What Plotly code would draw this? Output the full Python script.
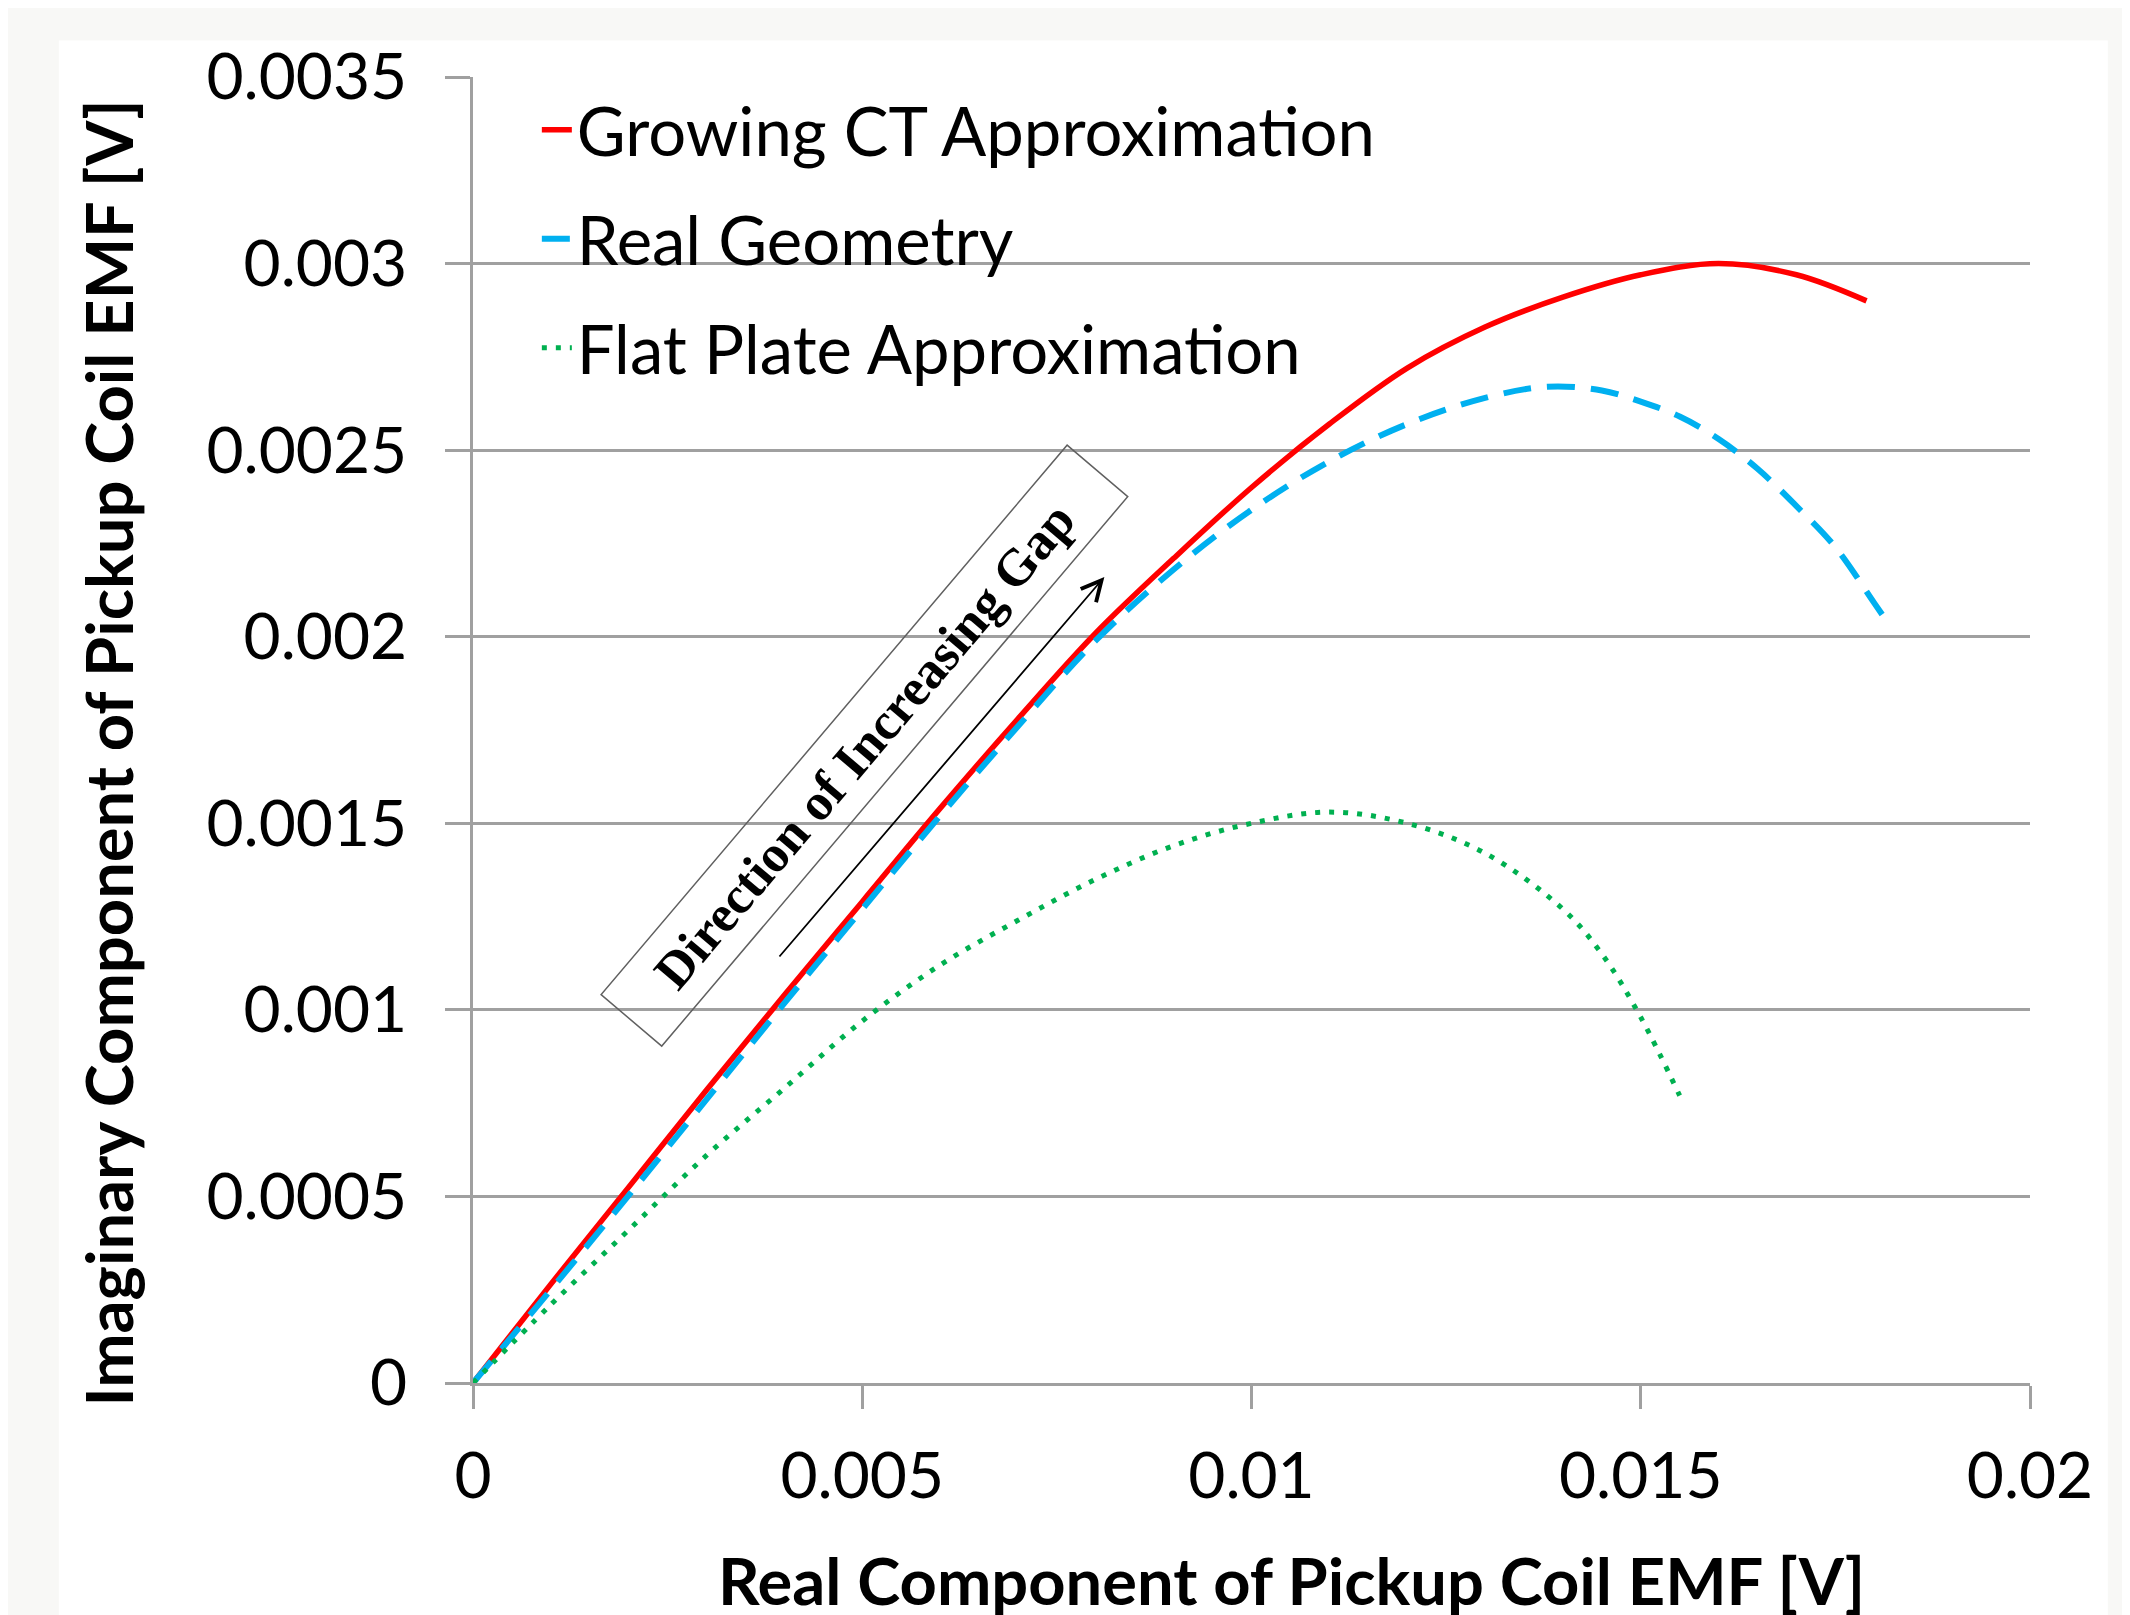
import plotly.graph_objects as go

# ---- data ----
ct_x = [0, 0.001, 0.002, 0.003, 0.004, 0.005, 0.006, 0.007, 0.008, 0.009, 0.010,
        0.011, 0.012, 0.013, 0.014, 0.015, 0.016, 0.017, 0.0179]
ct_y = [0, 0.000265, 0.000525, 0.000785, 0.00104, 0.00129, 0.00154, 0.00178, 0.00201,
        0.00221, 0.00240, 0.00257, 0.00272, 0.00283, 0.00291, 0.00297, 0.00300, 0.00297, 0.00290]

rg_x = [0, 0.001, 0.002, 0.003, 0.004, 0.005, 0.006, 0.007, 0.008, 0.009, 0.010,
        0.011, 0.012, 0.013, 0.0138, 0.0145, 0.015, 0.0155, 0.016, 0.0165, 0.017,
        0.0175, 0.018, 0.0182]
rg_y = [0, 0.000250, 0.000503, 0.000760, 0.001018, 0.00127, 0.00152, 0.00176, 0.00199,
        0.00218, 0.00234, 0.00247, 0.00257, 0.00264, 0.00267, 0.00266, 0.00263, 0.00259,
        0.00253, 0.00245, 0.00235, 0.00224, 0.00209, 0.00203]

fp_x = [0, 0.001, 0.002, 0.003, 0.004, 0.005, 0.006, 0.007, 0.008, 0.009, 0.010,
        0.011, 0.012, 0.013, 0.014, 0.0145, 0.015, 0.0155]
fp_y = [0, 0.00021, 0.00041, 0.00061, 0.00079, 0.00097, 0.00112, 0.00124, 0.00135,
        0.00144, 0.00150, 0.00153, 0.00150, 0.00142, 0.00127, 0.00115, 0.00098, 0.00077]

x_ticks = [0, 0.005, 0.01, 0.015, 0.02]
x_tick_labels = ["0", "0.005", "0.01", "0.015", "0.02"]
y_ticks = [0, 0.0005, 0.001, 0.0015, 0.002, 0.0025, 0.003, 0.0035]
y_tick_labels = ["0", "0.0005", "0.001", "0.0015", "0.002", "0.0025", "0.003", "0.0035"]

series_names = ["Growing CT Approximation", "Real Geometry", "Flat Plate Approximation"]

# annotation anchor points (data coords)
arrow_tail = (0.00392, 0.001139)
arrow_head = (0.00811, 0.00216)
label_center = (0.005027, 0.0017095)

FONT = "Lato"
GRID = "#a0a0a0"

fig = go.Figure()
fig.add_trace(go.Scatter(x=ct_x, y=ct_y, mode="lines", name=series_names[0],
                         legendgroup="a",
                         line=dict(color="#ff0000", width=5.5, shape="spline")))
fig.add_trace(go.Scatter(x=rg_x, y=rg_y, mode="lines", name=series_names[1],
                         legendgroup="b",
                         line=dict(color="#00b0f0", width=6, dash="28px,16px", shape="spline")))
fig.add_trace(go.Scatter(x=fp_x, y=fp_y, mode="lines", name=series_names[2],
                         legendgroup="c",
                         line=dict(color="#00b050", width=5, dash="5px,9px", shape="spline")))

fig.update_layout(
    width=2130, height=1615,
    margin=dict(l=465, r=108, t=69, b=240),
    paper_bgcolor="#f8f8f6",
    plot_bgcolor="white",
    font=dict(family=FONT, size=64, color="black"),
    showlegend=True,
    legend=dict(x=0.041, y=0.998, xanchor="left", yanchor="top",
                bgcolor="rgba(0,0,0,0)", font=dict(family=FONT, size=67),
                tracegroupgap=19, itemwidth=30),
    xaxis=dict(range=[0, 0.02], tickvals=x_ticks, ticktext=x_tick_labels,
               showgrid=False, zeroline=False, showline=True, linecolor=GRID, linewidth=3,
               ticks="outside", ticklen=23, tickwidth=3, tickcolor=GRID,
               ticklabelstandoff=12,
               tickfont=dict(family=FONT, size=64)),
    yaxis=dict(range=[0, 0.0035], tickvals=y_ticks, ticktext=y_tick_labels,
               showgrid=True, gridcolor=GRID, gridwidth=3,
               zeroline=False, showline=True, linecolor=GRID, linewidth=3,
               ticks="outside", ticklen=25, tickwidth=3, tickcolor=GRID,
               ticklabelstandoff=25,
               tickfont=dict(family=FONT, size=64)),
    shapes=[dict(type="rect", xref="paper", yref="paper",
                 x0=-0.266, x1=1.05, y0=-0.2, y1=1.028,
                 fillcolor="white", line=dict(width=0), layer="below")],
)

fig.add_annotation(text="Real Component of Pickup Coil EMF [V]", xref="paper", yref="paper",
                   x=0.526, y=-0.151, showarrow=False, xanchor="center", yanchor="middle",
                   font=dict(family=FONT, size=65, color="black", weight="bold"))
fig.add_annotation(text="Imaginary Component of Pickup Coil EMF [V]", xref="paper", yref="paper",
                   x=-0.235, y=0.482, showarrow=False, textangle=-90,
                   xanchor="center", yanchor="middle",
                   font=dict(family=FONT, size=65, color="black", weight="bold"))
fig.add_annotation(text="Direction of Increasing Gap", xref="x", yref="y",
                   x=label_center[0], y=label_center[1], showarrow=False,
                   textangle=-49.7, width=709, height=68, borderpad=5,
                   bordercolor="#606060", borderwidth=1.5, bgcolor="rgba(255,255,255,0)",
                   font=dict(family="Liberation Serif", size=52, color="black", weight="bold"))
fig.add_annotation(text="", x=arrow_head[0], y=arrow_head[1], xref="x", yref="y",
                   ax=arrow_tail[0], ay=arrow_tail[1], axref="x", ayref="y",
                   showarrow=True, arrowhead=5, arrowsize=2.2, arrowwidth=1.8,
                   arrowcolor="black", standoff=0)

fig.write_html("out.html")
